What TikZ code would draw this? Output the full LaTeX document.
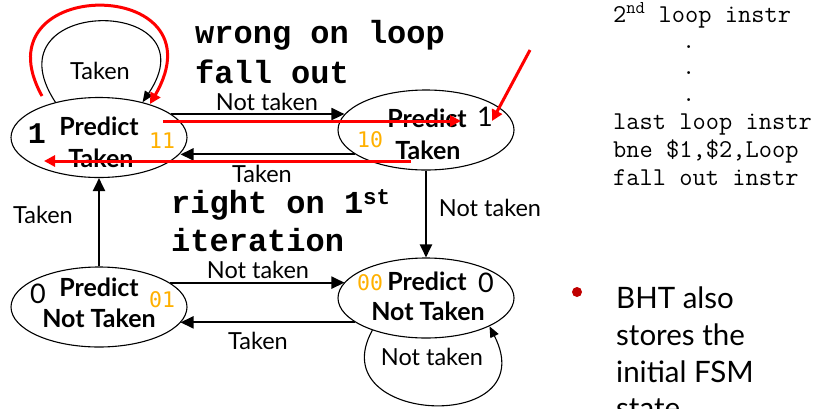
\documentclass[tikz,border=0pt]{standalone}
\usepackage{fontspec}
\setmainfont{Lato}
\newfontfamily\codefont{Liberation Mono}
\newfontfamily\numfont{DejaVu Sans Mono}
\usetikzlibrary{shapes.geometric,arrows.meta,calc}
\definecolor{bitorange}{RGB}{255,176,0}
\definecolor{markred}{RGB}{255,0,0}
\definecolor{bulletred}{RGB}{192,0,0}
\begin{document}
\begin{tikzpicture}[x=1pt,y=-1pt,
  fsm/.style={ellipse, draw, line width=1.1pt, minimum width=176pt, minimum height=80pt, inner sep=0pt},
  lbl/.style={font=\fontsize{23.5}{23.5}\selectfont, inner sep=0pt},
  st/.style={font=\bfseries\fontsize{25}{25}\selectfont, inner sep=0pt},
  bits/.style={font=\numfont\fontsize{21.5}{21.5}\selectfont, text=bitorange, inner sep=0pt},
  bigdigit/.style={font=\fontsize{27}{27}\selectfont, inner sep=0pt},
  arr/.style={line width=2pt, -{Triangle[length=13pt,width=12pt]}},
  looparr/.style={line width=1.1pt, -{Triangle[length=11pt,width=9pt]}},
  note/.style={font=\codefont\bfseries\fontsize{32}{32}\selectfont, anchor=west, inner sep=0pt},
  code/.style={font=\ttfamily\fontsize{25.7}{25.7}\selectfont, anchor=west, inner sep=0pt},
  redarr/.style={draw=markred, line width=3pt, -{Triangle[length=11pt,width=11pt]}},
  bullettext/.style={font=\fontsize{29.5}{29.5}\selectfont, anchor=west, inner sep=0pt}]
\useasboundingbox (0,0) rectangle (820,408);

% the four states of the 2-bit predictor
\node[fsm] (s11) at (99,137.5) {};
\node[fsm] (s10) at (426,130) {};
\node[fsm] (s01) at (99,307) {};
\node[fsm] (s00) at (426,298) {};

% state labels
\node[font=\codefont\bfseries\fontsize{30}{30}\selectfont, inner sep=0pt] (d11) at (37,134) {1};
\node[st] (p11) at (99,126) {Predict};
\node[st] (t11) at (101,158) {Taken};
\node[bits] (b11) at (162,141) {11};

\node[st] (p10) at (427,118) {Predict};
\node[bigdigit] (d10) at (485,117) {1};
\node[bits] (b10) at (370,140) {10};
\node[st] (t10) at (428,150) {Taken};

\node[bigdigit] (d01) at (38,294) {0};
\node[st] (p01) at (99,287) {Predict};
\node[bits] (b01) at (162,300) {01};
\node[st] (t01) at (99,318) {Not Taken};

\node[bits] (b00) at (370,283) {00};
\node[st] (p00) at (427,281) {Predict};
\node[bigdigit] (d00) at (486,283) {0};
\node[st] (t00) at (428,311) {Not Taken};

% transitions
\draw[arr] (s11.18) -- (s11.18 -| s10.169);
\draw[arr] (s10.199) -- (s10.199 -| s11.-11);
\draw[arr] (s10.south) -- (s00.north);
\draw[arr] (s01.north) -- (s11.south);
\draw[arr] (s01.19) -- (s01.19 -| s00.169);
\draw[arr] (s00.199) -- (s00.199 -| s01.-11);
\draw[looparr] (s11.141) .. controls (-15,-5) and (215,-5) .. (s11.39);
\draw[looparr] (s00.211) .. controls (320,425) and (545,435) .. (s00.-24);

% transition labels
\node[lbl] (lt11) at (100,71) {Taken};
\node[lbl] (lnt1) at (267,102) {Not taken};
\node[lbl] (lt1) at (262,174) {Taken};
\node[lbl] (lnt2) at (490,208) {Not taken};
\node[lbl] (lt2) at (43,215) {Taken};
\node[lbl] (lnt3) at (258,270) {Not taken};
\node[lbl] (lt3) at (258,341) {Taken};
\node[lbl] (lnt00) at (432,357) {Not taken};

% annotations
\node[note] (w1) at (195,35) {wrong on loop};
\node[note] (w2) at (195,72) {fall out};
\node[note] (r1) at (171,205) {right on 1\textsuperscript{st}};
\node[note] (r2) at (171,240) {iteration};

% red markings
\coordinate (rl1) at (42,96);
\coordinate (rl2) at (150,104);
\coordinate (ra1) at (163,121);
\coordinate (ra2) at (461,121);
\coordinate (rb1) at (411,161);
\coordinate (rb2) at (44,161);
\coordinate (rc1) at (530,50);
\coordinate (rc2) at (492,121);
\draw[redarr] (rl1) .. controls (-25,-25) and (225,-25) .. (rl2);
\draw[redarr] (ra1) -- (ra2);
\draw[redarr] (rb1) -- (rb2);
\draw[redarr] (rc1) -- (rc2);

% code listing
\node[code] (c1) at (613,15) {2\textsuperscript{nd} loop instr};
\node[code] (c2) at (682,47) {.};
\node[code] (c3) at (682,73) {.};
\node[code] (c4) at (682,100) {.};
\node[code] (c5) at (613,124) {last loop instr};
\node[code] (c6) at (613,151) {bne \$1,\$2,Loop};
\node[code] (c7) at (613,178) {fall out instr};

% bullet point
\fill[bulletred] (577,292) circle (5pt);
\node[bullettext] (bt1) at (616,298) {BHT also};
\node[bullettext] (bt2) at (616,335) {stores the};
\node[bullettext] (bt3) at (616,372) {initial FSM};
\node[bullettext] (bt4) at (616,409) {state};
\end{tikzpicture}
\end{document}
